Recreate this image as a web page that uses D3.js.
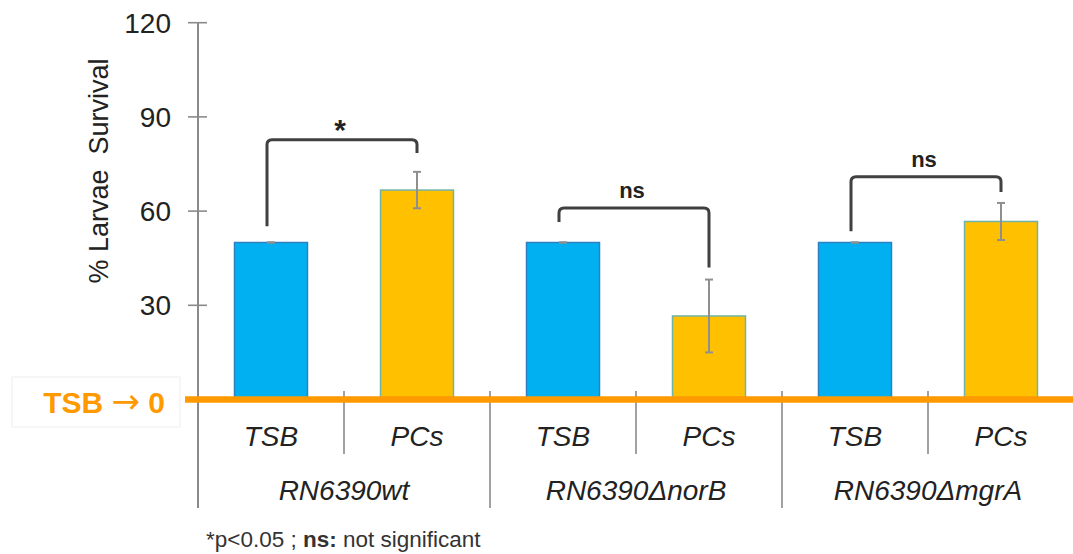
<!DOCTYPE html>
<html>
<head>
<meta charset="utf-8">
<script src="https://cdn.jsdelivr.net/npm/d3@7"></script>
<style>
  html, body { margin: 0; padding: 0; background: #ffffff; }
  svg { display: block; font-family: Arial, "Liberation Sans", sans-serif; }
</style>
</head>
<body>
<svg id="chart" width="1073" height="554"></svg>
<script>
// ---- data ----
const groups = ["RN6390wt", "RN6390ΔnorB", "RN6390ΔmgrA"];
const conditions = ["TSB", "PCs"];
const tsbValues = [50, 50, 50];
const tsbErrors = [0, 0, 0];
const pcsValues = [66.7, 26.6, 56.7];
const pcsErrors = [5.8, 11.6, 5.9];
const yTicks = [30, 60, 90, 120];
// brackets: [leftFoot, top, rightFoot] in % units, and label
const bracketLeft = [55.2, 56.5, 53.6];
const bracketTop = [82.7, 61.0, 70.9];
const bracketRight = [78.5, 42.0, 66.1];
const bracketLabels = ["*", "ns", "ns"];

// ---- build rows ----
const rows = [];
groups.forEach((g, i) => {
  rows.push({ key: g + "|TSB", group: g, cond: "TSB", value: tsbValues[i], err: tsbErrors[i] });
  rows.push({ key: g + "|PCs", group: g, cond: "PCs", value: pcsValues[i], err: pcsErrors[i] });
});

const svg = d3.select("#chart");
const x = d3.scaleBand().domain(rows.map(d => d.key)).range([198, 1074]).paddingInner(0.5).paddingOuter(0.25);
const y = d3.scaleLinear().domain([0, 120]).range([399.5, 22.7]);
const step = x.step();
const cx = k => x(k) + x.bandwidth() / 2;

const blue = "#00B0F0", blueStroke = "#2F7FC1";
const gold = "#FFC000", goldStroke = "#6FB3A8";
const orange = "#FF9900";
const axisGray = "#8a8a8a";

// y axis line
svg.append("line").attr("x1", 198).attr("x2", 198).attr("y1", y(120)).attr("y2", 508)
  .attr("stroke", axisGray).attr("stroke-width", 2);

// y ticks (crossing)
const yAxis = svg.append("g");
yAxis.selectAll("line.tick").data(yTicks).join("line")
  .attr("x1", 188).attr("x2", 207).attr("y1", d => y(d)).attr("y2", d => y(d))
  .attr("stroke", axisGray).attr("stroke-width", 1.6);
yAxis.selectAll("text").data(yTicks).join("text")
  .attr("x", 171).attr("y", d => y(d)).attr("dy", "0.36em")
  .attr("text-anchor", "end").attr("font-size", 28).attr("fill", "#222")
  .text(d => d);

// y title
svg.append("text")
  .attr("transform", `translate(108, 171) rotate(-90)`)
  .attr("text-anchor", "middle").attr("font-size", 27).attr("fill", "#222")
  .style("white-space", "pre")
  .text("% Larvae  Survival");

// bars
svg.selectAll("rect.bar").data(rows).join("rect")
  .attr("class", "bar")
  .attr("x", d => x(d.key)).attr("width", x.bandwidth())
  .attr("y", d => y(d.value)).attr("height", d => y(0) - y(d.value))
  .attr("fill", d => d.cond === "TSB" ? blue : gold)
  .attr("stroke", d => d.cond === "TSB" ? blueStroke : goldStroke)
  .attr("stroke-width", 1.5);

// error bars
const eb = svg.append("g").attr("stroke", "#8f8f8f").attr("stroke-width", 2);
rows.forEach(d => {
  const c = cx(d.key);
  const top = y(d.value + d.err), bot = y(d.value - d.err);
  eb.append("line").attr("x1", c).attr("x2", c).attr("y1", top).attr("y2", bot);
  eb.append("line").attr("x1", c - 4).attr("x2", c + 4).attr("y1", top).attr("y2", top);
  eb.append("line").attr("x1", c - 4).attr("x2", c + 4).attr("y1", bot).attr("y2", bot);
});

// x-axis separators
const sepG = svg.append("g").attr("stroke", axisGray).attr("stroke-width", 1.6);
groups.forEach((g, i) => {
  const gx0 = x(g + "|TSB") - step * 0.25;
  const mid = gx0 + step;
  const gx1 = gx0 + 2 * step;
  sepG.append("line").attr("x1", mid).attr("x2", mid).attr("y1", 391).attr("y2", 454);
  sepG.append("line").attr("x1", gx1).attr("x2", gx1).attr("y1", 391).attr("y2", 508);
});

// orange zero line
svg.append("line").attr("x1", 185).attr("x2", 1073).attr("y1", y(0)).attr("y2", y(0))
  .attr("stroke", orange).attr("stroke-width", 6.5);

// category labels
svg.selectAll("text.cat").data(rows).join("text")
  .attr("class", "cat")
  .attr("x", d => cx(d.key)).attr("y", 446)
  .attr("text-anchor", "middle").attr("font-size", 28).attr("font-style", "italic").attr("fill", "#222")
  .text(d => d.cond);

// group labels
svg.selectAll("text.grp").data(groups).join("text")
  .attr("class", "grp")
  .attr("x", g => x(g + "|TSB") - step * 0.25 + step).attr("y", 500)
  .attr("text-anchor", "middle").attr("font-size", 28).attr("font-style", "italic").attr("fill", "#222")
  .text(g => g);

// brackets
const br = svg.append("g");
groups.forEach((g, i) => {
  const xl = cx(g + "|TSB") - 4, xr = cx(g + "|PCs");
  const yl = y(bracketLeft[i]), yt = y(bracketTop[i]), yr = y(bracketRight[i]);
  const r = 5;
  br.append("path")
    .attr("d", `M${xl},${yl} L${xl},${yt + r} Q${xl},${yt} ${xl + r},${yt} L${xr - r},${yt} Q${xr},${yt} ${xr},${yt + r} L${xr},${yr}`)
    .attr("fill", "none").attr("stroke", "#404040").attr("stroke-width", 3);
  const isStar = bracketLabels[i] === "*";
  br.append("text")
    .attr("x", (xl + xr) / 2 - 2).attr("y", isStar ? yt - 0 : yt - 10)
    .attr("text-anchor", "middle").attr("font-weight", "bold")
    .attr("font-size", isStar ? 30 : 22).attr("fill", "#222")
    .text(bracketLabels[i]);
});

// TSB -> 0 label box
svg.append("rect").attr("x", 12).attr("y", 377).attr("width", 168).attr("height", 50)
  .attr("fill", "#ffffff").attr("stroke", "#eeeeee").attr("stroke-width", 1);
const lab = svg.append("text").attr("x", 165).attr("y", 413)
  .attr("text-anchor", "end").attr("font-size", 30).attr("font-weight", "bold").attr("fill", orange);
lab.append("tspan").text("TSB ");
lab.append("tspan").attr("font-family", "'DejaVu Sans', sans-serif").attr("font-weight", "normal")
  .attr("font-size", 34).text("→");
lab.append("tspan").text(" 0");

// footnote
const fn = svg.append("text").attr("x", 206).attr("y", 547).attr("font-size", 22.5).attr("fill", "#333");
fn.append("tspan").text("*p<0.05 ; ");
fn.append("tspan").attr("font-weight", "bold").text("ns:");
fn.append("tspan").text(" not significant");
</script>
</body>
</html>
